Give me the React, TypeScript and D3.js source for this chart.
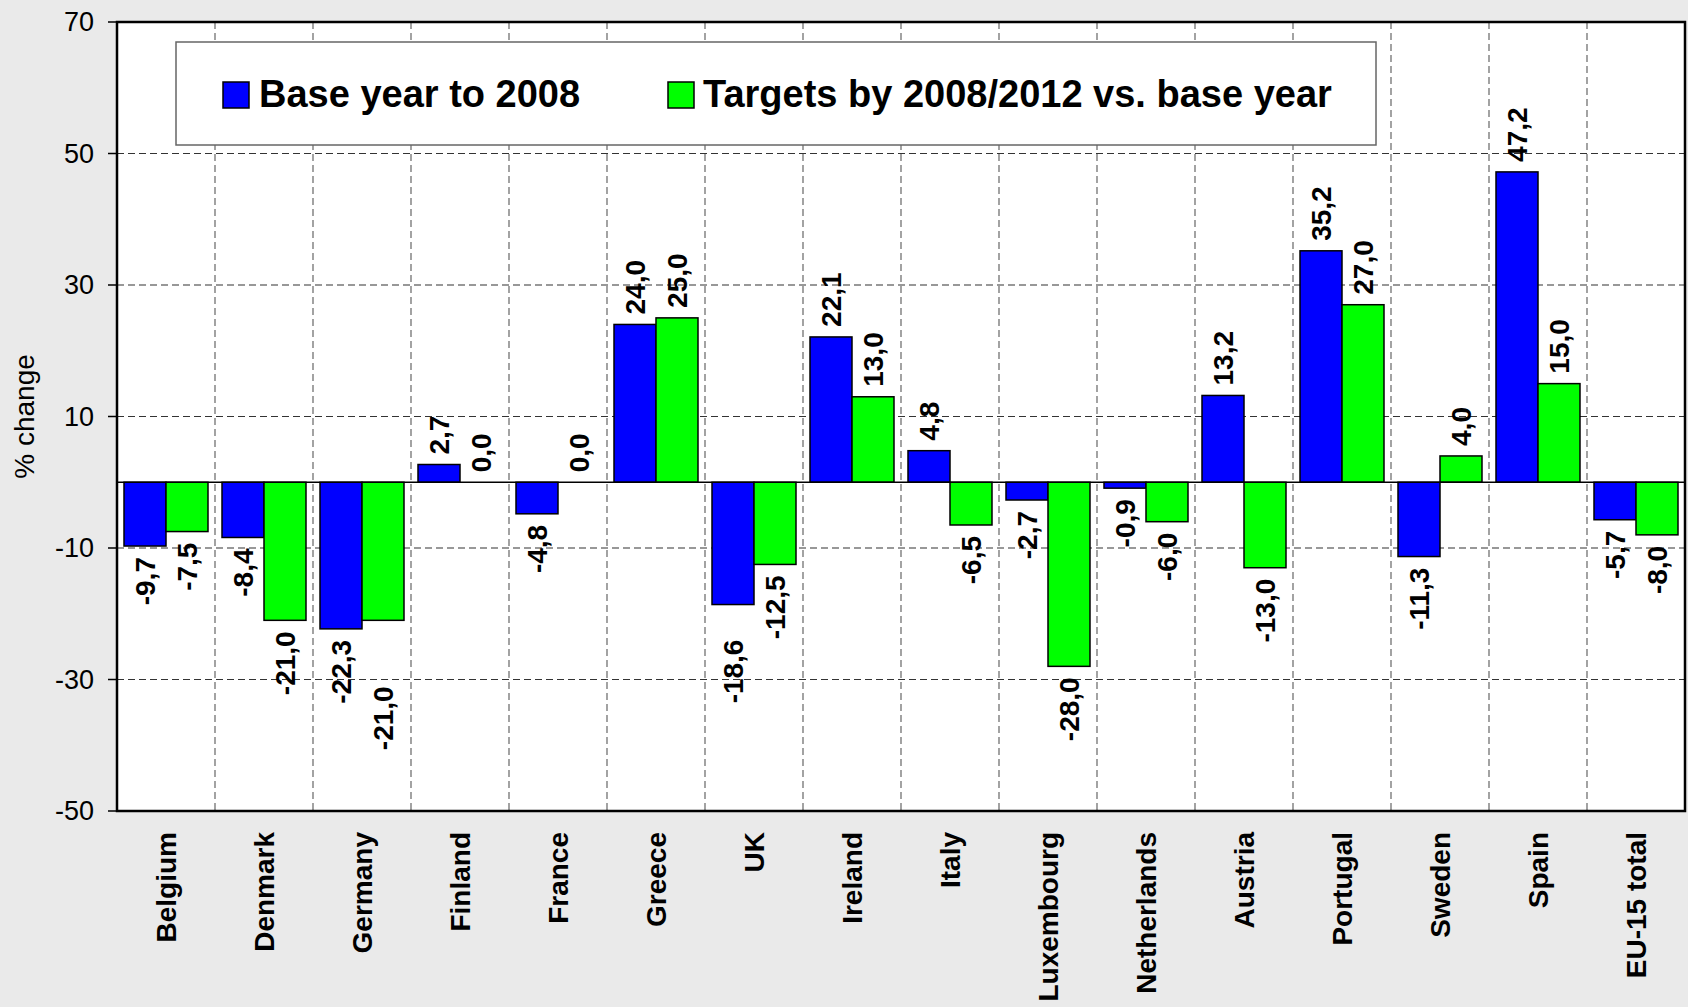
import React from "react";
import * as d3 from "d3";

const categories = ["Belgium","Denmark","Germany","Finland","France","Greece","UK","Ireland","Italy","Luxembourg","Netherlands","Austria","Portugal","Sweden","Spain","EU-15 total"];
const baseYearTo2008 = [-9.7,-8.4,-22.3,2.7,-4.8,24.0,-18.6,22.1,4.8,-2.7,-0.9,13.2,35.2,-11.3,47.2,-5.7];
const targets = [-7.5,-21.0,-21.0,0.0,0.0,25.0,-12.5,13.0,-6.5,-28.0,-6.0,-13.0,27.0,4.0,15.0,-8.0];
const seriesNames = ["Base year to 2008","Targets by 2008/2012 vs. base year"];
const seriesColors = ["#0000FF","#00FF00"];
const yTicks = [70,50,30,10,-10,-30,-50];

// label placement nudges (layout only, in px)
const labelNudge: Record<string, number> = { "Germany|1": 55, "UK|0": 24 };

const W = 1688, H = 1007;
const L = 117, R = 1685, T = 22, B = 811;
const FONT = "'Liberation Sans', Arial, Helvetica, sans-serif";

export default function App() {
  const y = d3.scaleLinear().domain([-50, 70]).range([B, T]);
  const x0 = d3.scaleBand<string>().domain(categories).range([L, R]).paddingInner(0).paddingOuter(0);
  const x1 = d3.scaleBand<string>().domain(seriesNames).range([0, x0.bandwidth()]).paddingInner(0).paddingOuter(0.1667);
  const seriesData = [baseYearTo2008, targets];
  const fmt = (v: number) => v.toFixed(1).replace(".", ",");
  const y0 = y(0);

  return (
    <svg width={W} height={H} style={{ position: "absolute", left: 0, top: 0, background: "#EAEAEA" }} fontFamily={FONT}>
      <rect x={0} y={0} width={W} height={H} fill="#EAEAEA" />
      <rect x={L} y={T} width={R - L} height={B - T} fill="#FFFFFF" />
      {yTicks.filter(t => t !== 70 && t !== -50).map(t => (
        <line key={"h" + t} x1={L} x2={R} y1={y(t)} y2={y(t)} stroke="#333" strokeWidth={1.2} strokeDasharray="7,4" />
      ))}
      {categories.slice(1).map(c => (
        <line key={"v" + c} x1={x0(c)!} x2={x0(c)!} y1={T} y2={B} stroke="#666" strokeWidth={1.2} strokeDasharray="7,4" />
      ))}
      <rect x={176} y={42} width={1200} height={103} fill="#FFFFFF" stroke="#666" strokeWidth={1.5} />
      <rect x={223} y={82} width={26} height={26} fill={seriesColors[0]} stroke="#000" strokeWidth={1.5} />
      <text x={259} y={107} fontSize={38} fontWeight="bold" fill="#000">{seriesNames[0]}</text>
      <rect x={668} y={82} width={26} height={26} fill={seriesColors[1]} stroke="#000" strokeWidth={1.5} />
      <text x={703} y={107} fontSize={38} fontWeight="bold" fill="#000">{seriesNames[1]}</text>
      {categories.map((c, i) => (
        <g key={"g" + c}>
          {seriesNames.map((s, j) => {
            const v = seriesData[j][i];
            const bx = x0(c)! + x1(s)!;
            const bw = x1.bandwidth();
            const yy = y(v);
            return (
              <rect key={s} x={bx} y={Math.min(yy, y0)} width={bw} height={Math.abs(yy - y0)} fill={seriesColors[j]} stroke="#000" strokeWidth={1.5} />
            );
          })}
        </g>
      ))}
      <line x1={L} x2={R} y1={y0} y2={y0} stroke="#000" strokeWidth={1.5} />
      {categories.map((c, i) => seriesNames.map((s, j) => {
        const v = seriesData[j][i];
        const cx = x0(c)! + x1(s)! + x1.bandwidth() / 2;
        const neg = v < 0;
        const nudge = labelNudge[c + "|" + j] || 0;
        const ly = neg ? y(v) + 11 + nudge : y(v) - 10;
        return (
          <text key={"l" + c + s} transform={`translate(${cx},${ly}) rotate(-90)`} textAnchor={neg ? "end" : "start"} dy="0.35em" fontSize={28} fontWeight="bold" fill="#000">{fmt(v)}</text>
        );
      }))}
      <rect x={L} y={T} width={R - L} height={B - T} fill="none" stroke="#000" strokeWidth={2.5} />
      {yTicks.map(t => (
        <g key={"t" + t}>
          <line x1={108} x2={L} y1={y(t)} y2={y(t)} stroke="#000" strokeWidth={1.5} />
          <text x={94} y={y(t)} dy="0.35em" textAnchor="end" fontSize={27} fill="#000">{t}</text>
        </g>
      ))}
      <text transform={`translate(24,${(T + B) / 2}) rotate(-90)`} textAnchor="middle" dy="0.35em" fontSize={28} fill="#000">% change</text>
      {categories.map(c => (
        <text key={"c" + c} transform={`translate(${x0(c)! + x0.bandwidth() / 2},832) rotate(-90)`} textAnchor="end" dy="0.35em" fontSize={28} fontWeight="bold" fill="#000">{c}</text>
      ))}
    </svg>
  );
}
